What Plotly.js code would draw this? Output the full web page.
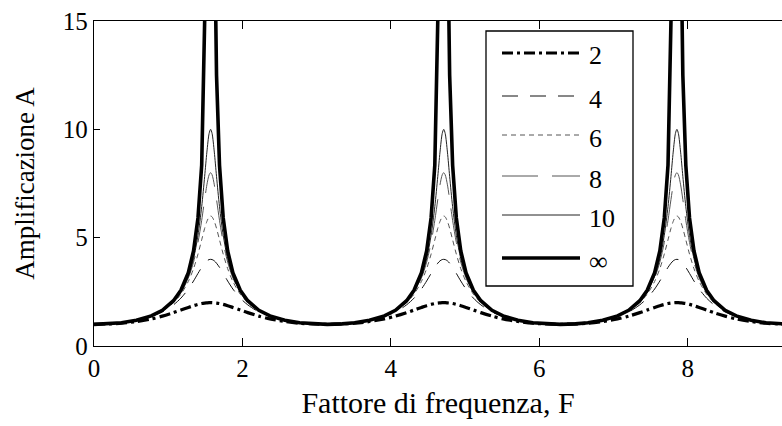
<!DOCTYPE html>
<html>
<head>
<meta charset="utf-8">
<script src="https://cdn.plot.ly/plotly-3.0.1.min.js"></script>
<style>
html,body{margin:0;padding:0;background:#fff;}
#chart{width:782px;height:426px;}
</style>
</head>
<body>
<div id="chart"></div>
<script>
// Frequency factor F (x values)
const F = [
  0.000,0.201,0.371,0.571,0.771,0.921,1.071,1.171,1.271,1.341,1.401,1.451,1.491,1.521,1.551,1.571,
  1.591,1.621,1.651,1.691,1.741,1.801,1.871,1.971,2.071,2.221,2.371,2.571,2.771,2.941,3.142,
  3.342,3.512,3.712,3.912,4.062,4.212,4.312,4.412,4.482,4.542,4.592,4.632,4.662,4.692,4.712,
  4.732,4.762,4.792,4.832,4.882,4.942,5.012,5.112,5.212,5.362,5.512,5.712,5.912,6.082,6.283,
  6.484,6.654,6.854,7.054,7.204,7.354,7.454,7.554,7.624,7.684,7.734,7.774,7.804,7.834,7.854,
  7.874,7.904,7.934,7.974,8.024,8.084,8.154,8.254,8.354,8.504,8.654,8.854,9.054,9.224,9.425
];

// Amplification A for each series
const A_2 = [
  1.00,1.02,1.05,1.13,1.25,1.38,1.54,1.66,1.78,1.86,1.92,1.96,1.98,1.99,2.00,2.00,
  2.00,1.99,1.98,1.96,1.92,1.86,1.78,1.66,1.54,1.38,1.25,1.13,1.05,1.02,1.00,
  1.02,1.05,1.13,1.25,1.38,1.54,1.66,1.78,1.86,1.92,1.96,1.98,1.99,2.00,2.00,
  2.00,1.99,1.98,1.96,1.92,1.86,1.78,1.66,1.54,1.38,1.25,1.13,1.05,1.02,1.00,
  1.02,1.05,1.13,1.25,1.38,1.54,1.66,1.78,1.86,1.92,1.96,1.98,1.99,2.00,2.00,
  2.00,1.99,1.98,1.96,1.92,1.86,1.78,1.66,1.54,1.38,1.25,1.13,1.05,1.02,1.00
];
const A_4 = [
  1.00,1.02,1.07,1.17,1.36,1.57,1.90,2.21,2.63,3.00,3.35,3.63,3.82,3.93,3.99,4.00,
  3.99,3.93,3.82,3.63,3.35,3.00,2.63,2.21,1.90,1.57,1.36,1.17,1.07,1.02,1.00,
  1.02,1.07,1.17,1.36,1.57,1.90,2.21,2.63,3.00,3.35,3.63,3.82,3.93,3.99,4.00,
  3.99,3.93,3.82,3.63,3.35,3.00,2.63,2.21,1.90,1.57,1.36,1.17,1.07,1.02,1.00,
  1.02,1.07,1.17,1.36,1.57,1.90,2.21,2.63,3.00,3.35,3.63,3.82,3.93,3.99,4.00,
  3.99,3.93,3.82,3.63,3.35,3.00,2.63,2.21,1.90,1.57,1.36,1.17,1.07,1.02,1.00
];
const A_6 = [
  1.00,1.02,1.07,1.18,1.38,1.61,2.00,2.39,2.98,3.57,4.24,4.90,5.43,5.75,5.96,6.00,
  5.96,5.75,5.43,4.90,4.24,3.57,2.98,2.39,2.00,1.61,1.38,1.18,1.07,1.02,1.00,
  1.02,1.07,1.18,1.38,1.61,2.00,2.39,2.98,3.57,4.24,4.90,5.43,5.75,5.96,6.00,
  5.96,5.75,5.43,4.90,4.24,3.57,2.98,2.39,2.00,1.61,1.38,1.18,1.07,1.02,1.00,
  1.02,1.07,1.18,1.38,1.61,2.00,2.39,2.98,3.57,4.24,4.90,5.43,5.75,5.96,6.00,
  5.96,5.75,5.43,4.90,4.24,3.57,2.98,2.39,2.00,1.61,1.38,1.18,1.07,1.02,1.00
];
const A_8 = [
  1.00,1.02,1.07,1.19,1.38,1.63,2.03,2.46,3.14,3.87,4.78,5.80,6.76,7.44,7.90,8.00,
  7.90,7.44,6.76,5.80,4.78,3.87,3.14,2.46,2.03,1.63,1.38,1.19,1.07,1.02,1.00,
  1.02,1.07,1.19,1.38,1.63,2.03,2.46,3.14,3.87,4.78,5.80,6.76,7.44,7.90,8.00,
  7.90,7.44,6.76,5.80,4.78,3.87,3.14,2.46,2.03,1.63,1.38,1.19,1.07,1.02,1.00,
  1.02,1.07,1.19,1.38,1.63,2.03,2.46,3.14,3.87,4.78,5.80,6.76,7.44,7.90,8.00,
  7.90,7.44,6.76,5.80,4.78,3.87,3.14,2.46,2.03,1.63,1.38,1.19,1.07,1.02,1.00
];
const A_10 = [
  1.00,1.02,1.07,1.19,1.39,1.64,2.05,2.50,3.22,4.03,5.11,6.43,7.83,8.95,9.81,10.00,
  9.81,8.95,7.83,6.43,5.11,4.03,3.22,2.50,2.05,1.64,1.39,1.19,1.07,1.02,1.00,
  1.02,1.07,1.19,1.39,1.64,2.05,2.50,3.22,4.03,5.11,6.43,7.83,8.95,9.81,10.00,
  9.81,8.95,7.83,6.43,5.11,4.03,3.22,2.50,2.05,1.64,1.39,1.19,1.07,1.02,1.00,
  1.02,1.07,1.19,1.39,1.64,2.05,2.50,3.22,4.03,5.11,6.43,7.83,8.95,9.81,10.00,
  9.81,8.95,7.83,6.43,5.11,4.03,3.22,2.50,2.05,1.64,1.39,1.19,1.07,1.02,1.00
];
const A_inf = [
  1.00,1.02,1.07,1.19,1.39,1.65,2.09,2.57,3.38,4.39,5.91,8.35,12.5,20.0,50.0,null,
  50.0,20.0,12.5,8.35,5.91,4.39,3.38,2.57,2.09,1.65,1.39,1.19,1.07,1.02,1.00,
  1.02,1.07,1.19,1.39,1.65,2.09,2.57,3.38,4.39,5.91,8.35,12.5,20.0,50.0,null,
  50.0,20.0,12.5,8.35,5.91,4.39,3.38,2.57,2.09,1.65,1.39,1.19,1.07,1.02,1.00,
  1.02,1.07,1.19,1.39,1.65,2.09,2.57,3.38,4.39,5.91,8.35,12.5,20.0,50.0,null,
  50.0,20.0,12.5,8.35,5.91,4.39,3.38,2.57,2.09,1.65,1.39,1.19,1.07,1.02,1.00
];

const seriesLabels = ['2','4','6','8','10','\u221E'];
const xTickVals = [0,2,4,6,8];
const yTickVals = [0,5,10,15];
const xTitle = 'Fattore di frequenza, F';
const yTitle = 'Amplificazione A';

const seriesY = [A_2, A_4, A_6, A_8, A_10, A_inf];
const styles = [
  {color:'#000', width:3.2, dash:'11px,4px,3px,4px', shape:'spline'},
  {color:'#111', width:1,   dash:'16px,12px',       shape:'spline'},
  {color:'#555', width:1,   dash:'5px,4px',         shape:'spline'},
  {color:'#555', width:1,   dash:'36px,14px',       shape:'spline'},
  {color:'#222', width:1,   dash:'solid',           shape:'spline'},
  {color:'#000', width:3.6, dash:'solid',           shape:'linear'}
];

const traces = seriesY.map((y, i) => ({
  type:'scatter', mode:'lines', x:F, y:y, name:seriesLabels[i],
  line:{color:styles[i].color, width:styles[i].width, dash:styles[i].dash, shape:styles[i].shape, smoothing:0.8},
  connectgaps:false, showlegend:false, hoverinfo:'skip'
}));
// draw thick lines on top
const order = [1,2,3,4,0,5];
const data = order.map(i => traces[i]);

const fontFam = 'Liberation Serif';

// Custom legend box (paper coordinates derived from plot-area pixels)
const plotL = 94, plotR = 782, plotT = 21, plotB = 346;
const px = v => (v - plotL) / (plotR - plotL);
const py = v => (plotB - v) / (plotB - plotT);
const legendRowsPx = [53, 96, 135, 176, 215, 258];

const shapes = [{
  type:'rect', xref:'paper', yref:'paper',
  x0:px(486), x1:px(633), y0:py(286), y1:py(31),
  line:{color:'#000', width:1.3}, fillcolor:'#fff', layer:'above'
}];
const annotations = [];
legendRowsPx.forEach((r, i) => {
  shapes.push({
    type:'line', xref:'paper', yref:'paper',
    x0:px(502), x1:px(580), y0:py(r), y1:py(r),
    line:{color:styles[i].color, width:styles[i].width, dash:styles[i].dash}, layer:'above'
  });
  annotations.push({
    xref:'paper', yref:'paper', x:px(587), y:py(r + 3),
    xanchor:'left', yanchor:'middle', showarrow:false,
    text:seriesLabels[i],
    font:{family:fontFam, size:26, color:'#000'}
  });
});

const layout = {
  width:782, height:426,
  margin:{l:plotL, r:782-plotR, t:plotT, b:426-plotB, pad:0},
  paper_bgcolor:'#fff', plot_bgcolor:'#fff',
  showlegend:false,
  font:{family:fontFam, size:25, color:'#000'},
  xaxis:{
    range:[0, 9.27], tickvals:xTickVals, ticktext:xTickVals.map(String),
    ticks:'inside', ticklen:8, tickwidth:1, tickcolor:'#000',
    showline:true, linecolor:'#000', linewidth:1.3, mirror:'ticks',
    showgrid:false, zeroline:false,
    tickfont:{family:fontFam, size:25, color:'#000'},
    title:{text:xTitle, font:{family:fontFam, size:30, color:'#000'}, standoff:10},
    automargin:false
  },
  yaxis:{
    range:[0, 15], tickvals:yTickVals, ticktext:yTickVals.map(String),
    ticks:'inside', ticklen:6, tickwidth:1, tickcolor:'#000',
    showline:true, linecolor:'#000', linewidth:1.3, mirror:false,
    showgrid:false, zeroline:false,
    tickfont:{family:fontFam, size:25, color:'#000'},
    title:{text:yTitle, font:{family:fontFam, size:27, color:'#000'}, standoff:20},
    automargin:false
  },
  shapes:shapes,
  annotations:annotations
};

Plotly.newPlot('chart', data, layout, {displayModeBar:false, staticPlot:true});
</script>
</body>
</html>
